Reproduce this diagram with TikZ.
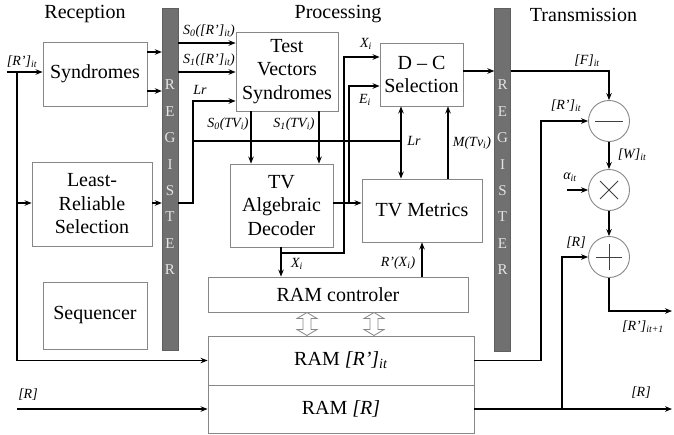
\documentclass[tikz,border=0pt]{standalone}
\usepackage{fontspec}
\setmainfont{Liberation Serif}
\usetikzlibrary{arrows.meta}
\definecolor{boxgray}{RGB}{135,135,135}
\definecolor{reggray}{RGB}{112,112,112}
\definecolor{regtext}{RGB}{228,228,228}
\begin{document}
\begin{tikzpicture}[x=1pt,y=-1pt,
  box/.style={draw=boxgray,line width=0.9pt,fill=white,inner sep=0pt,align=center,font=\fontsize{20}{23.5}\selectfont},
  regbar/.style={draw=reggray!85!black,fill=reggray,inner sep=0pt,minimum width=16pt},
  regl/.style={text=regtext,inner sep=0pt,font=\fontsize{15}{15}\selectfont},
  lab/.style={inner sep=0pt,font=\fontsize{14}{16}\selectfont\itshape},
  head/.style={inner sep=0pt,font=\fontsize{20}{24}\selectfont},
  wire/.style={line width=1.1pt,-{Stealth[length=7pt,width=5.5pt]}},
  wiretwo/.style={line width=1.1pt,{Stealth[length=7pt,width=5.5pt]}-{Stealth[length=7pt,width=5.5pt]}},
  plain/.style={line width=1.1pt},
  op/.style={circle,draw=boxgray,line width=0.9pt,minimum size=41pt,inner sep=0pt,fill=white},
  glyph/.style={draw=black!75,line width=1pt},
  hollow/.style={draw=boxgray,line width=0.8pt,fill=white}]
\useasboundingbox (0,0) rectangle (674,434);

% headings
\node[head] (hRec) at (85,14) {Reception};
\node[head] (hPro) at (338,14) {Processing};
\node[head] (hTra) at (583.5,15) {Transmission};

% boxes
\node[box,minimum width=104pt,minimum height=64pt] (syn) at (95,74) {Syndromes};
\node[box,minimum width=120pt,minimum height=84pt] (lrs) at (92,204) {Least-\\Reliable\\Selection};
\node[box,minimum width=104pt,minimum height=67pt] (seq) at (95,315.5) {Sequencer};
\node[regbar,minimum height=342pt] (regL) at (170,179) {};
\node[regbar,minimum height=343pt] (regR) at (502.5,179.5) {};
\node[box,minimum width=102pt,minimum height=79pt] (tvs) at (287,71.5) {Test\\Vectors\\Syndromes};
\node[box,minimum width=83pt,minimum height=63pt] (dcs) at (421.5,74.5) {D – C\\Selection};
\node[box,minimum width=103pt,minimum height=83pt] (dec) at (281.5,205.5) {TV\\Algebraic\\Decoder};
\node[box,minimum width=120pt,minimum height=63pt] (tvm) at (422,210.5) {TV Metrics};
\node[box,minimum width=260pt,minimum height=35pt] (ramc) at (338,294.5) {RAM controler};
\node[box,minimum width=266pt,minimum height=49pt] (ram1) at (341,360.5) {RAM \textit{[R’]}\textsubscript{\textit{it}}};
\node[box,minimum width=266pt,minimum height=48pt] (ram2) at (341,409) {RAM \textit{[R]}};

% register letters
\foreach \l [count=\i] in {R,E,G,I,S,T,E,R} {
  \node[regl] (rl\i) at (170,{58.6+26.4*\i}) {\l};
  \node[regl] (rr\i) at (502.5,{58.6+26.4*\i}) {\l};
}

% operators
\node[op] (mn) at (609,121) {};
\node[op] (tm) at (609,190) {};
\node[op] (pl) at (609,257) {};
\draw[glyph] ([xshift=-14pt]mn.center) -- ([xshift=14pt]mn.center);
\draw[glyph] ([shift={(-9,-9)}]tm.center) -- ([shift={(9,9)}]tm.center);
\draw[glyph] ([shift={(-9,9)}]tm.center) -- ([shift={(9,-9)}]tm.center);
\draw[glyph] ([xshift=-13pt]pl.center) -- ([xshift=13pt]pl.center);
\draw[glyph] ([yshift=-13pt]pl.center) -- ([yshift=13pt]pl.center);

% hollow double arrows
\foreach \cx [count=\k] in {307,374} {
  \coordinate (ha\k) at (\cx,312.5);
  \draw[hollow] (ha\k) -- ++(10,6) -- ++(-6,0) -- ++(0,11) -- ++(6,0) -- ++(-10,6)
     -- ++(-10,-6) -- ++(6,0) -- ++(0,-11) -- ++(-6,0) -- cycle;
}

% coordinates
\coordinate (inA) at (7,72);
\coordinate (jA) at (17,72);
\coordinate (jB) at (17,203);
\coordinate (rIn) at (17,409);
\coordinate (lrA) at (193,203);
\coordinate (lrB) at (193,141);
\coordinate (lrC) at (401,141);
\coordinate (xA) at (281,253);
\coordinate (xB) at (344,253);
\coordinate (eA) at (349,203);
\coordinate (rA) at (541,0);
\coordinate (aA) at (567,190);
\coordinate (rB) at (562,409);
\coordinate (rOut) at (672,409);
\coordinate (pOut) at (672,311);

% reception connectors
\draw[wire] (inA) -- (inA -| syn.west);
\draw[wire] (jA) |- (ram1.west);
\draw[wire] (jB) -- (jB -| lrs.west);
\draw[wire] (rIn) -- (rIn -| ram2.west);
\draw[wire] (syn.east |- 0,52) -- (regL.west |- 0,52);
\draw[wire] (syn.east |- 0,91) -- (regL.west |- 0,91);
\draw[wire] (lrs.east |- jB) -- (regL.west |- jB);

% processing connectors
\draw[wire] (regL.east |- 0,43) -- (tvs.west |- 0,43);
\draw[wire] (regL.east |- 0,72) -- (tvs.west |- 0,72);
\draw[wire] (regL.east |- lrA) -- (lrA) |- (tvs.west |- 0,101);
\draw[plain] (lrB) -- (lrC);
\draw[wiretwo] (dcs.south -| lrC) -- (tvm.north -| lrC);
\draw[wire] (tvs.south -| 251,0) -- (dec.north -| 251,0);
\draw[wire] (tvs.south -| 319,0) -- (dec.north -| 319,0);
\draw[wire] (dec.south -| xA) -- (ramc.north -| xA);
\draw[wire] (xA) -- (xB) |- (dcs.west |- 0,57);
\draw[wire] (dec.east |- eA) -- (tvm.west |- eA);
\draw[wire] (eA) |- (dcs.west |- 0,86);
\draw[wire] (tvm.north -| 448,0) -- (dcs.south -| 448,0);
\draw[wire] (ramc.north -| 422,0) -- (tvm.south -| 422,0);
\draw[wire] (dcs.east |- 0,71) -- (regR.west |- 0,71);

% transmission connectors
\draw[wire] (regR.east |- 0,71) -| (mn.north);
\draw[wire] (ram1.east) -| (mn.west -| rA) -- (mn.west);
\draw[wire] (mn.south) -- (tm.north);
\draw[wire] (aA) -- (tm.west);
\draw[wire] (tm.south) -- (pl.north);
\draw[wire] (ram2.east) -- (rOut);
\draw[wire] (rB) |- (pl.west);
\draw[wire] (pl.south) |- (pOut);

% labels
\node[lab] (lRin) at (22,62) {[R’]\textsubscript{it}};
\node[lab] (lS0R) at (209,31) {S\textsubscript{0}([R’]\textsubscript{it})};
\node[lab] (lS1R) at (209,60) {S\textsubscript{1}([R’]\textsubscript{it})};
\node[lab] (lLr1) at (200,90) {Lr};
\node[lab] (lS0T) at (228,124) {S\textsubscript{0}(TV\textsubscript{i})};
\node[lab] (lS1T) at (294,124) {S\textsubscript{1}(TV\textsubscript{i})};
\node[lab] (lX1) at (366,44) {X\textsubscript{i}};
\node[lab] (lE) at (365,100) {E\textsubscript{i}};
\node[lab] (lLr2) at (414,141) {Lr};
\node[lab] (lM) at (472,143) {M(Tv\textsubscript{i})};
\node[lab] (lRX) at (398,263) {R’(X\textsubscript{i})};
\node[lab] (lX2) at (297,264) {X\textsubscript{i}};
\node[lab] (lF) at (587,61) {[F]\textsubscript{it}};
\node[lab] (lRm) at (566,106) {[R’]\textsubscript{it}};
\node[lab] (lW) at (632,155) {[W]\textsubscript{it}};
\node[lab] (lA) at (570,177) {α\textsubscript{it}};
\node[lab] (lRp) at (576,243) {[R]};
\node[lab] (lRn) at (643,327) {[R’]\textsubscript{it+1}};
\node[lab] (lRo) at (641,393) {[R]};
\node[lab] (lRi) at (28,395) {[R]};
\end{tikzpicture}
\end{document}
